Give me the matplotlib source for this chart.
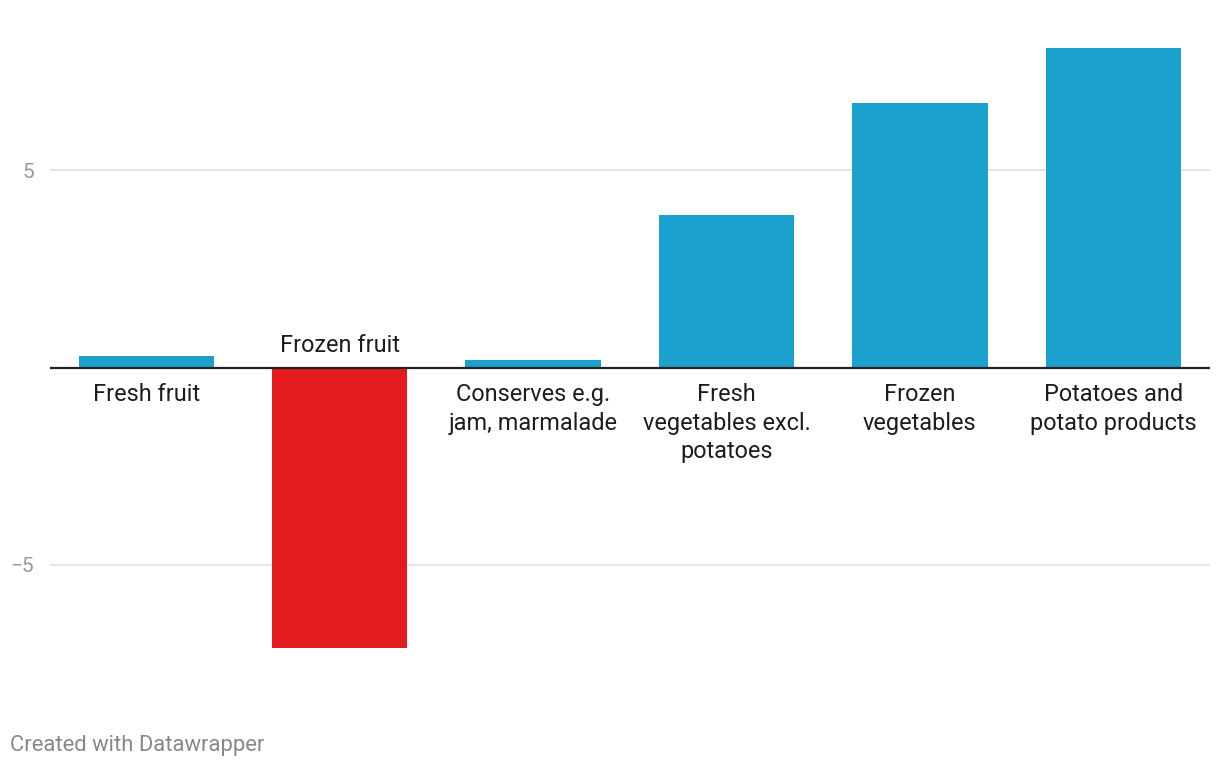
import matplotlib
matplotlib.use("Agg")
import matplotlib.pyplot as plt

categories = ["Fresh fruit", "Frozen fruit", "Conserves e.g.\njam, marmalade",
              "Fresh\nvegetables excl.\npotatoes", "Frozen\nvegetables",
              "Potatoes and\npotato products"]
values = [0.29, -7.09, 0.18, 3.86, 6.70, 8.09]
yticks = [-5, 5]
ytick_labels = ["\u22125", "5"]

BLUE = "#1aa1ce"
RED = "#e31b1e"

plt.rcParams['font.family'] = ['Roboto', 'DejaVu Sans']

fig = plt.figure(figsize=(12.2, 7.68), dpi=100)
W, H = 1220, 768
left, right = 49.5, 1210
top_px, bot_px = 40, 665
ax = fig.add_axes([left / W, 1 - bot_px / H, (right - left) / W, (bot_px - top_px) / H])

zero_px = 367.5
unit = 39.5
ax.set_ylim(-(bot_px - zero_px) / unit, (zero_px - top_px) / unit)
ax.set_xlim(-0.5, len(categories) - 0.5)

colors = [RED if v < 0 else BLUE for v in values]
x = list(range(len(categories)))
ax.bar(x, values, width=0.7, color=colors, zorder=2)

for t in yticks:
    ax.axhline(t, color="#e3e3e3", lw=1.3, zorder=1)
ax.axhline(0, color="#222222", lw=1.6, zorder=3)

ax.set_yticks(yticks)
ax.set_yticklabels(ytick_labels, color="#999999", fontsize=15)
ax.tick_params(axis='y', length=0, pad=11)
ax.set_xticks([])
for s in ax.spines.values():
    s.set_visible(False)

for xi, v, lab in zip(x, values, categories):
    if v >= 0:
        ax.annotate(lab, (xi, 0), xytext=(0, -11.5), textcoords="offset points",
                    ha="center", va="top", fontsize=16.9, color="#1d1d1d",
                    linespacing=1.29)
    else:
        ax.annotate(lab, (xi, 0), xytext=(0, 7.5), textcoords="offset points",
                    ha="center", va="bottom", fontsize=16.9, color="#1d1d1d",
                    linespacing=1.29)

fig.text(10 / W, 1 - 745 / H, "Created with Datawrapper", color="#888888",
         fontsize=15.8, ha="left", va="center")

fig.savefig("out.png", dpi=100, facecolor="white")
